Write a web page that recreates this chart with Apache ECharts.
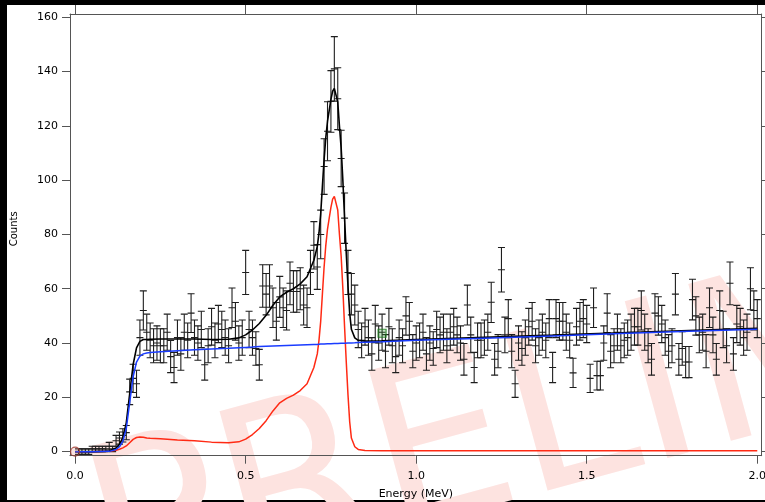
<!DOCTYPE html>
<html>
<head>
<meta charset="utf-8">
<script src="https://cdn.jsdelivr.net/npm/echarts@6/dist/echarts.min.js"></script>
<style>
html, body { margin: 0; padding: 0; background: #000; }
#chart { width: 765px; height: 502px; }
</style>
</head>
<body>
<div id="chart"></div>
<script>
// Spectrum channels: centre of first channel and channel width (MeV)
const channelStart = 0.01;
const channelWidth = 0.01;

// Measured counts per channel (0.01 ... 2.00 MeV)
const counts = [
  0, 0, 0, 0, 1, 1, 1, 1, 1, 2, 1, 4, 5, 6, 7,
  22, 27, 25, 42, 52,
  44, 41, 39, 40, 39, 39, 44, 35, 31, 42, 36, 44, 41, 51, 42, 40, 45, 32, 39, 46,
  41, 47, 45, 42, 39, 53, 48, 40, 42, 66,
  45, 42, 38, 32, 61, 58, 61, 53, 48, 57, 53, 52, 62, 59, 59, 60, 54, 53, 66, 76,
  68, 80, 105, 118, 129, 141, 130, 108, 86, 66,
  58, 54, 45, 41, 46, 42, 36, 47, 40, 44,
  37, 46, 39, 35, 42, 39, 50, 48, 37, 40,
  41, 44, 36, 40, 38, 45, 43, 44, 39, 44,
  46, 43, 40, 34, 54, 43, 31, 41, 41, 42,
  44, 55, 34, 37, 67, 43, 49, 37, 25, 40,
  38, 42, 46, 48, 39, 42, 44, 41, 49, 31,
  49, 48, 48, 44, 41, 29, 46, 48, 49, 47,
  27, 53, 28, 28, 40, 51, 37, 39, 44, 39,
  41, 42, 44, 46, 46, 52, 44, 39, 34, 51,
  50, 47, 42, 37, 39, 58, 34, 38, 33, 33,
  56, 50, 43, 44, 37, 53, 43, 34, 52, 45,
  39, 62, 36, 47, 46, 42, 44, 60, 52, 49
];

// Fit model components evaluated at these energies (MeV)
const modelEnergy = [
  0, 0.05, 0.10, 0.12, 0.13, 0.14, 0.15, 0.16, 0.17, 0.18, 0.19, 0.20, 0.21, 0.22, 0.25, 0.30,
  0.35, 0.40, 0.45, 0.48, 0.50, 0.52, 0.54, 0.56, 0.58, 0.60, 0.62, 0.64, 0.66, 0.68, 0.70, 0.71,
  0.715, 0.72, 0.725, 0.73, 0.735, 0.74, 0.745, 0.75, 0.755, 0.76, 0.765, 0.77, 0.775, 0.78, 0.785,
  0.79, 0.795, 0.80, 0.805, 0.81, 0.82, 0.83, 0.85, 0.90, 1.0, 1.2, 1.4, 1.6, 1.8, 2.0
];
// Background component (blue)
const backgroundModel = [
  0, 0, 0.1, 0.8, 1.8, 3.8, 8.5, 18, 27.5, 33, 35.2, 36, 36.3, 36.5, 36.8, 37.2,
  37.5, 37.8, 38.1, 38.3, 38.4, 38.5, 38.7, 38.8, 38.9, 39.0, 39.1, 39.2, 39.3, 39.4, 39.5, 39.5,
  39.55, 39.6, 39.6, 39.65, 39.65, 39.7, 39.7, 39.75, 39.75, 39.8, 39.8, 39.85, 39.85, 39.9, 39.9,
  39.95, 39.95, 40.0, 40.0, 40.05, 40.1, 40.2, 40.3, 40.5, 41.0, 41.8, 42.6, 43.5, 44.3, 45.1
];
// Photopeak + Compton component (red)
const peakModel = [
  0, 0, 0.1, 0.5, 0.9, 1.4, 2.1, 3.3, 4.5, 5.2, 5.4, 5.3, 5.0, 4.9, 4.7, 4.3,
  4.0, 3.5, 3.3, 3.6, 4.6, 6.3, 8.5, 11.4, 15, 18, 19.6, 20.8, 22.5, 25, 31, 36,
  41, 48, 58, 68, 76, 82, 86, 90, 93, 94, 94, 89, 80, 72, 60,
  46, 33, 21, 11, 5, 1.8, 0.8, 0.4, 0.3, 0.3, 0.3, 0.3, 0.3, 0.3, 0.3
];

// Fit range markers [energy, counts]
const fitRangeStart = [0, 0];
const fitRangeEnd = [0.9, 43.6];

// Axis ticks
const energyTicks = [0, 0.5, 1.0, 1.5, 2.0];
const countTicks = [0, 20, 40, 60, 80, 100, 120, 140, 160];

const channelData = counts.map((c, k) => [channelStart + k * channelWidth, c, Math.sqrt(Math.max(c, 1))]);
const bgLine = modelEnergy.map((e, i) => [e, backgroundModel[i]]);
const peakLine = modelEnergy.map((e, i) => [e, peakModel[i]]);
const totalLine = modelEnergy.map((e, i) => [e, backgroundModel[i] + peakModel[i]]);

function renderErrorBar(params, api) {
  const x = api.value(0), y = api.value(1), err = api.value(2);
  const top = api.coord([x, y + err]);
  const mid = api.coord([x, y]);
  const bot = api.coord([x, y - err]);
  const hw = 3.5;
  const style = { stroke: '#1e1e1e', lineWidth: 1.1 };
  const cx = mid[0];
  return {
    type: 'group',
    children: [
      { type: 'line', shape: { x1: cx, y1: top[1], x2: cx, y2: bot[1] }, style },
      { type: 'line', shape: { x1: cx - hw, y1: top[1], x2: cx + hw, y2: top[1] }, style },
      { type: 'line', shape: { x1: cx - hw, y1: mid[1], x2: cx + hw, y2: mid[1] }, style },
      { type: 'line', shape: { x1: cx - hw, y1: bot[1], x2: cx + hw, y2: bot[1] }, style }
    ]
  };
}

const labelFont = { fontFamily: 'DejaVu Sans', fontSize: 11, color: '#000' };
const axisLineStyle = { color: '#555', width: 1 };

const xRange = { min: -0.015, max: 2.013 };
const yRange = { min: -1.5, max: 161.2 };

const chart = echarts.init(document.getElementById('chart'), null, { renderer: 'canvas' });
chart.setOption({
  backgroundColor: '#000',
  animation: false,
  grid: { left: 70, right: 3.3, top: 14, bottom: 46.3, containLabel: false, outerBoundsMode: 'none' },
  graphic: [
    { type: 'rect', z: -2, shape: { x: 7, y: 5, width: 758, height: 495 }, style: { fill: '#fff' } },
    {
      type: 'text', z: -1, x: 96, y: 553, rotation: 0.265,
      style: { text: 'PRELIMINARY', font: '223px "DejaVu Sans"', fill: '#fde3e0', verticalAlign: 'middle', align: 'left' }
    }
  ],
  xAxis: [
    {
      type: 'value', position: 'bottom', ...xRange,
      name: 'Energy (MeV)', nameLocation: 'middle', nameGap: 33, nameMoveOverlap: false,
      nameTextStyle: { fontFamily: 'DejaVu Sans', fontSize: 11, color: '#000' },
      axisLine: { onZero: false, lineStyle: axisLineStyle },
      axisTick: { customValues: energyTicks, length: 8, inside: false, lineStyle: axisLineStyle },
      axisLabel: { customValues: energyTicks, margin: 15, formatter: v => v.toFixed(1), ...labelFont },
      splitLine: { show: false }
    },
    {
      type: 'value', position: 'top', ...xRange,
      axisLine: { onZero: false, lineStyle: axisLineStyle },
      axisTick: { customValues: energyTicks, length: 9, inside: false, lineStyle: axisLineStyle },
      axisLabel: { show: false },
      splitLine: { show: false }
    }
  ],
  yAxis: [
    {
      type: 'value', position: 'left', ...yRange,
      name: 'Counts', nameLocation: 'middle', nameGap: 51, nameMoveOverlap: false,
      nameTextStyle: { fontFamily: 'DejaVu Sans', fontSize: 10, color: '#000', padding: [0, 0, 0, 12] },
      axisLine: { onZero: false, lineStyle: axisLineStyle },
      axisTick: { customValues: countTicks, length: 8, inside: false, lineStyle: axisLineStyle },
      axisLabel: { customValues: countTicks, margin: 12, ...labelFont },
      splitLine: { show: false }
    },
    {
      type: 'value', position: 'right', ...yRange,
      axisLine: { onZero: false, lineStyle: axisLineStyle },
      axisTick: { customValues: countTicks, length: 8, inside: false, lineStyle: axisLineStyle },
      axisLabel: { show: false },
      splitLine: { show: false }
    }
  ],
  series: [
    {
      type: 'custom', name: 'data', renderItem: renderErrorBar,
      data: channelData, encode: { x: 0, y: 1 }, z: 2, clip: true
    },
    {
      type: 'line', name: 'peak', data: peakLine, showSymbol: false, z: 3,
      lineStyle: { color: '#ff2a14', width: 1.5 }
    },
    {
      type: 'line', name: 'total', data: totalLine, showSymbol: false, z: 4,
      lineStyle: { color: '#000', width: 1.6 }
    },
    {
      type: 'line', name: 'background', data: bgLine, showSymbol: false, z: 5,
      lineStyle: { color: '#1a3cff', width: 1.5 }
    },
    {
      type: 'scatter', name: 'fit start', data: [fitRangeStart], symbol: 'circle', symbolSize: 9, z: 6,
      itemStyle: { color: 'rgba(220,120,110,0.25)', borderColor: '#a03a30', borderWidth: 1.2 }
    },
    {
      type: 'scatter', name: 'fit end', data: [fitRangeEnd], symbol: 'rect', symbolSize: 8, z: 6,
      itemStyle: { color: 'rgba(60,160,60,0.35)', borderColor: '#1a7a1a', borderWidth: 1.2 }
    }
  ]
});
</script>
</body>
</html>
